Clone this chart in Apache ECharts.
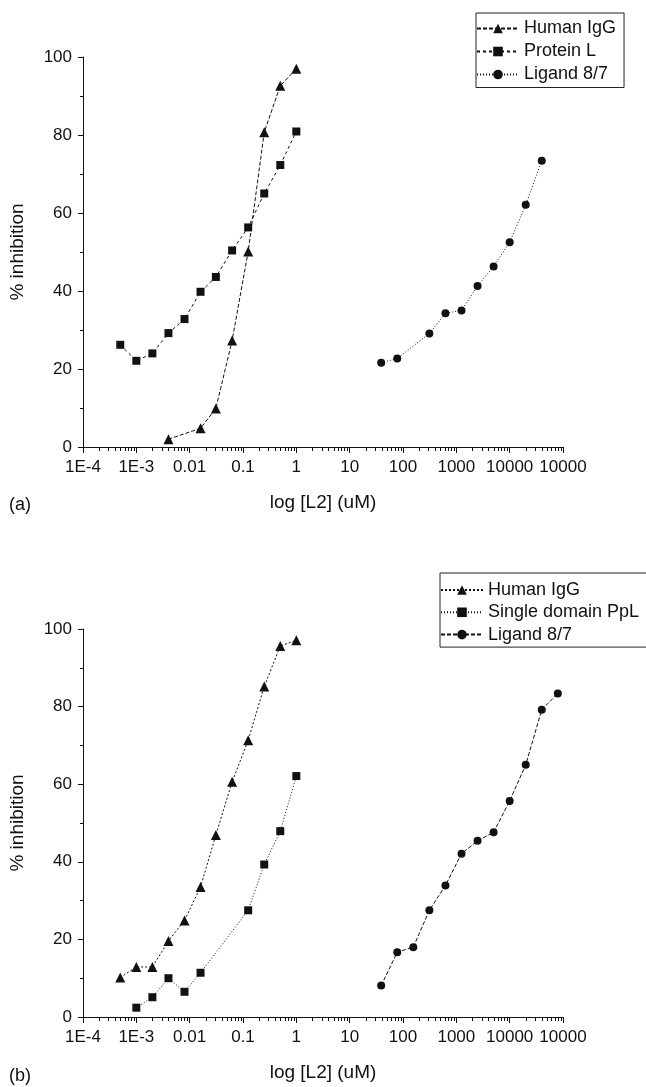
<!DOCTYPE html>
<html>
<head>
<meta charset="utf-8">
<script src="https://cdn.jsdelivr.net/npm/echarts@6/dist/echarts.min.js"></script>
<style>
html,body{margin:0;padding:0;background:#fff;}
#ca{position:absolute;left:0;top:0;width:646px;height:544px;}
#cb{position:absolute;left:0;top:544px;width:646px;height:543px;}
</style>
</head>
<body>
<div id="ca"></div>
<div id="cb"></div>
<script>
// ---- tick labels ----
const xTickLabels = ['1E-4','1E-3','0.01','0.1','1','10','100','1000','10000','10000'];
const yTicks = [0, 20, 40, 60, 80, 100];

// ---- panel (a) ----
const a_igg_x = [0.004, 0.016, 0.031, 0.0625, 0.125, 0.25, 0.5, 1];
const a_igg_y = [2.0, 4.8, 9.9, 27.3, 50.1, 80.7, 92.6, 97.0];
const a_pl_x = [0.0005, 0.001, 0.002, 0.004, 0.008, 0.016, 0.031, 0.0625, 0.125, 0.25, 0.5, 1];
const a_pl_y = [26.2, 22.1, 24.0, 29.2, 32.8, 39.8, 43.6, 50.4, 56.3, 65.0, 72.3, 80.9];
const a_lig_x = [39, 78, 312, 625, 1250, 2500, 5000, 10000, 20000, 40000];
const a_lig_y = [21.6, 22.7, 29.1, 34.3, 35.0, 41.3, 46.3, 52.5, 62.1, 73.4];

// ---- panel (b) ----
const b_igg_x = [0.0005, 0.001, 0.002, 0.004, 0.008, 0.016, 0.031, 0.0625, 0.125, 0.25, 0.5, 1];
const b_igg_y = [10.2, 12.9, 12.9, 19.6, 24.9, 33.5, 46.9, 60.6, 71.3, 85.2, 95.6, 97.1];
const b_ppl_x = [0.001, 0.002, 0.004, 0.008, 0.016, 0.125, 0.25, 0.5, 1];
const b_ppl_y = [2.4, 5.1, 10.0, 6.5, 11.4, 27.5, 39.3, 47.9, 62.1];
const b_lig_x = [39, 78, 156, 312, 625, 1250, 2500, 5000, 10000, 20000, 40000, 80000];
const b_lig_y = [8.1, 16.7, 18.0, 27.5, 33.9, 42.1, 45.4, 47.6, 55.7, 65.0, 79.2, 83.4];

const FONT = '"Liberation Sans", Arial, Helvetica, sans-serif';
const INK = '#111';

function pairs(xs, ys){ return xs.map((x,i)=>[x, ys[i]]); }

// minor tick values of the log axis (2..9 x 10^n), decoration only
const minorVals = [];
for (let e = -4; e < 5; e++) for (let k = 2; k <= 9; k++) minorVals.push([k * Math.pow(10, e), 0]);

function lineSeries(name, xs, ys, symbol, size, dash){
  return {
    name, type:'line', data: pairs(xs, ys), symbol, symbolSize: size,
    lineStyle:{color:INK, width:1, type: dash},
    itemStyle:{color:INK}, z: 3
  };
}

function makeOption(cfg){
  return {
    animation:false,
    backgroundColor:'#fff',
    grid:{left:80, right:83, top:cfg.top, bottom:cfg.bottom, containLabel:false},
    legend:{
      orient:'vertical', left:cfg.legLeft, top:cfg.legTop,
      itemWidth:42, itemHeight:12, itemGap:cfg.legGap,
      padding:[cfg.legPadTop, 8, cfg.legPadBot, 0],
      borderColor:'#222', borderWidth:1, backgroundColor:'#fff',
      textStyle:{fontFamily:FONT, fontSize:18, lineHeight:18, color:INK, padding:[0,0,0,0]},
      data: cfg.series.map(s=>s.name)
    },
    xAxis:{
      type:'log', logBase:10, min:1e-4, max:1e5,
      name:'log [L2] (uM)', nameLocation:'middle', nameGap:46,
      nameTextStyle:{fontFamily:FONT, fontSize:19, color:INK},
      axisLine:{onZero:false, lineStyle:{color:INK, width:1.2}},
      axisTick:{show:true, inside:false, length:6, lineStyle:{color:INK, width:1}},
      minorTick:{show:false},
      splitLine:{show:false},
      axisLabel:{
        fontFamily:FONT, fontSize:17, color:INK, margin:12,
        formatter:function(v){ const i = Math.round(Math.log10(v)) + 4; return xTickLabels[i] !== undefined ? xTickLabels[i] : ''; }
      }
    },
    yAxis:{
      type:'value', min:yTicks[0], max:yTicks[yTicks.length-1], interval:20,
      name:'% inhibition', nameLocation:'middle', nameGap:56, nameRotate:90,
      nameTextStyle:{fontFamily:FONT, fontSize:19, color:INK},
      axisLine:{show:true, lineStyle:{color:INK, width:1}},
      axisTick:{show:true, inside:false, length:5, lineStyle:{color:INK, width:1}},
      minorTick:{show:true, splitNumber:2, length:3, lineStyle:{color:INK, width:1}},
      splitLine:{show:false},
      axisLabel:{fontFamily:FONT, fontSize:17, color:INK, margin:11}
    },
    graphic:[{type:'text', left:9, top:cfg.tagTop, style:{text:cfg.tag, font:'18px '+FONT, fill:INK}}],
    series: cfg.series.concat([{
      type:'custom', silent:true, clip:false, data:minorVals, z:2,
      encode:{x:0, y:1},
      renderItem:function(params, api){
        const p = api.coord([api.value(0), api.value(1)]);
        const x = Math.round(p[0]) + 0.5;
        return {type:'line', shape:{x1:x, y1:p[1], x2:x, y2:p[1]+4}, style:{stroke:INK, lineWidth:1}};
      }
    }])
  };
}

const seriesA = [
  lineSeries('Human IgG', a_igg_x, a_igg_y, 'triangle', 10, [4,2]),
  lineSeries('Protein L', a_pl_x, a_pl_y, 'rect', 8, [3,3]),
  lineSeries('Ligand 8/7', a_lig_x, a_lig_y, 'circle', 8, [1,2])
];
const seriesB = [
  lineSeries('Human IgG', b_igg_x, b_igg_y, 'triangle', 10, [2,2]),
  lineSeries('Single domain PpL', b_ppl_x, b_ppl_y, 'rect', 8, [1,2]),
  lineSeries('Ligand 8/7', b_lig_x, b_lig_y, 'circle', 8, [4,2])
];

const chartA = echarts.init(document.getElementById('ca'), null, {renderer:'canvas'});
chartA.setOption(makeOption({
  top:57, bottom:97, series:seriesA,
  legLeft:476, legTop:13, legGap:5, legPadTop:6.5, legPadBot:4,
  tag:'(a)', tagTop:496
}));
const chartB = echarts.init(document.getElementById('cb'), null, {renderer:'canvas'});
chartB.setOption(makeOption({
  top:85, bottom:64, series:seriesB,
  legLeft:440, legTop:29, legGap:4.3, legPadTop:8, legPadBot:3.5,
  tag:'(b)', tagTop:523
}));
</script>
</body>
</html>
